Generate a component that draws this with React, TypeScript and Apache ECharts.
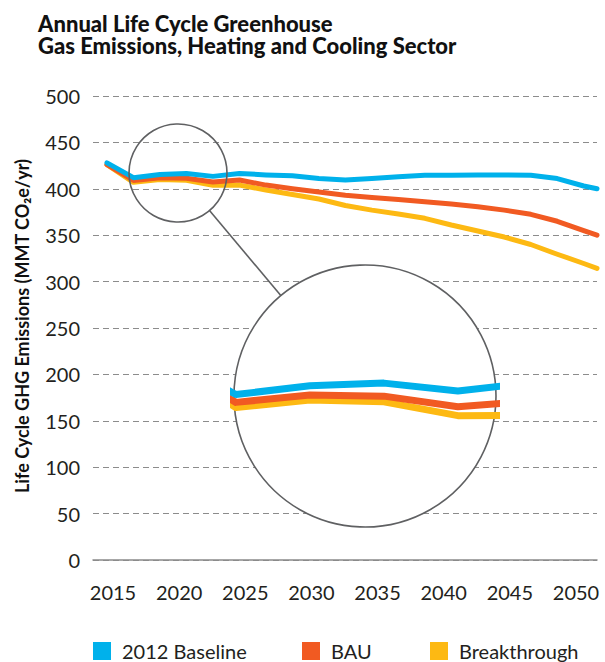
import React, { useEffect, useRef } from "react";
import * as echarts from "echarts";

const years = [2014, 2016, 2018, 2020, 2022, 2024, 2026, 2028, 2030, 2032, 2034, 2036, 2038, 2040, 2042, 2044, 2046, 2048, 2050, 2051];
const baseline = [428, 412, 415.4, 416.4, 413.4, 416.5, 415, 414, 411, 409.5, 411, 413, 414.5, 414.5, 415, 415, 414.5, 411, 403, 400];
const bau = [426, 409, 411.8, 411.4, 407.3, 409.5, 404, 400, 396.5, 393, 390.6, 388.5, 386, 383.6, 380.7, 377, 372.5, 365, 355, 350];
const breakthrough = [426, 407, 409.9, 409.2, 403.9, 404, 398.7, 393.9, 389, 382, 377, 372.8, 368.2, 361, 354.5, 348, 340, 329.5, 319.5, 314.3];
const seriesNames = ["2012 Baseline", "BAU", "Breakthrough"];
const colors = ["#00b1eb", "#f15a22", "#fdb913"];
const titleLines = ["Annual Life Cycle Greenhouse", "Gas Emissions, Heating and Cooling Sector"];
const yAxisTitle = "Life Cycle GHG Emissions (MMT CO₂e/yr)";

const FONT = "Lato, 'Open Sans', sans-serif";

export default function App() {
  const ref = useRef<HTMLDivElement>(null);
  useEffect(() => {
    if (!ref.current) return;
    const chart = echarts.init(ref.current, null, { renderer: "svg" });
    const pairs = (vals: number[]) => years.map((y, i) => [y, vals[i]]);
    const order = [2, 1, 0];
    const allVals = [baseline, bau, breakthrough];
    const mainSeries = order.map((i) => ({
      type: "line",
      name: seriesNames[i],
      xAxisIndex: 0,
      yAxisIndex: 0,
      data: pairs(allVals[i]),
      color: colors[i],
      showSymbol: false,
      symbol: "none",
      lineStyle: { width: 5, color: colors[i], cap: "round", join: "round" },
      z: 2,
    }));
    const insetSeries = order.map((i) => ({
      type: "line",
      name: seriesNames[i],
      xAxisIndex: 2,
      yAxisIndex: 2,
      data: pairs(allVals[i]),
      color: colors[i],
      showSymbol: false,
      symbol: "none",
      clip: true,
      lineStyle: { width: 7, color: colors[i], join: "round" },
      z: 3,
    }));
    const legendLefts = [93, 302, 430];
    const titleStyle = {
      fontFamily: FONT,
      fontWeight: 900,
      fontSize: 22,
      lineHeight: 20,
      fill: "#111",
      textVerticalAlign: "top",
    };
    chart.setOption({
      animation: false,
      legend: seriesNames.map((n, i) => ({
        data: [n],
        left: legendLefts[i],
        top: 641,
        icon: "rect",
        itemWidth: 18,
        itemHeight: 18,
        padding: 0,
        textStyle: { fontFamily: FONT, fontSize: 20, color: "#231f20", padding: [0, 0, 0, 6] },
      })),
      grid: [
        { left: 93, right: 8, top: 96, bottom: 102 },
        { left: 113, right: 29, top: 96, bottom: 102 },
        { left: 234, width: 262, top: 265, height: 262 },
      ],
      xAxis: [
        {
          type: "value",
          gridIndex: 0,
          min: 2012.943,
          max: 2051,
          axisLine: { show: true, lineStyle: { color: "#8a8a8a", width: 1.5 } },
          axisTick: { show: false },
          axisLabel: { show: false },
          splitLine: { show: false },
          z: 4,
        },
        {
          type: "value",
          gridIndex: 1,
          min: 2015,
          max: 2050,
          interval: 5,
          axisLine: { show: false },
          axisTick: { show: false },
          splitLine: { show: false },
          axisLabel: { fontFamily: FONT, fontSize: 20, color: "#231f20", margin: 22, formatter: (v: number) => String(v) },
        },
        { type: "value", gridIndex: 2, min: 2015.95, max: 2023.03, show: false },
      ],
      yAxis: [
        {
          type: "value",
          gridIndex: 0,
          min: 0,
          max: 500,
          interval: 50,
          axisLine: { show: false },
          axisTick: { show: false },
          axisLabel: { fontFamily: FONT, fontSize: 20, color: "#231f20", margin: 13 },
          splitLine: { show: true, lineStyle: { color: "#8c8c8c", width: 1.2, type: [6, 4] } },
        },
        { type: "value", gridIndex: 1, min: 0, max: 500, show: false },
        { type: "value", gridIndex: 2, min: 361.1, max: 461.8, show: false },
      ],
      graphic: [
        { type: "text", x: 38, y: 13, style: { ...titleStyle, text: titleLines[0] }, z: 5 },
        { type: "text", x: 38, y: 35, style: { ...titleStyle, text: titleLines[1] }, z: 5 },
        {
          type: "text",
          x: 22,
          y: 326,
          rotation: Math.PI / 2,
          style: {
            text: yAxisTitle,
            fontFamily: FONT,
            fontWeight: "bold",
            fontSize: 18,
            fill: "#111",
            textAlign: "center",
            textVerticalAlign: "middle",
          },
          z: 5,
        },
        {
          type: "circle",
          shape: { cx: 365, cy: 396, r: 131 },
          style: { fill: "#ffffff", stroke: "#5f6062", lineWidth: 1.6 },
          z: 1,
        },
        {
          type: "circle",
          shape: { cx: 178, cy: 173, r: 49 },
          style: { fill: "none", stroke: "#5f6062", lineWidth: 1.6 },
          z: 10,
        },
        {
          type: "line",
          shape: { x1: 209.5, y1: 210.6, x2: 280.8, y2: 295.5 },
          style: { stroke: "#5f6062", lineWidth: 1.6 },
          z: 10,
        },
      ],
      series: [...mainSeries, ...insetSeries],
    });
    return () => chart.dispose();
  }, []);
  return <div ref={ref} style={{ width: 605, height: 662, position: "absolute", left: 0, top: 0 }} />;
}
